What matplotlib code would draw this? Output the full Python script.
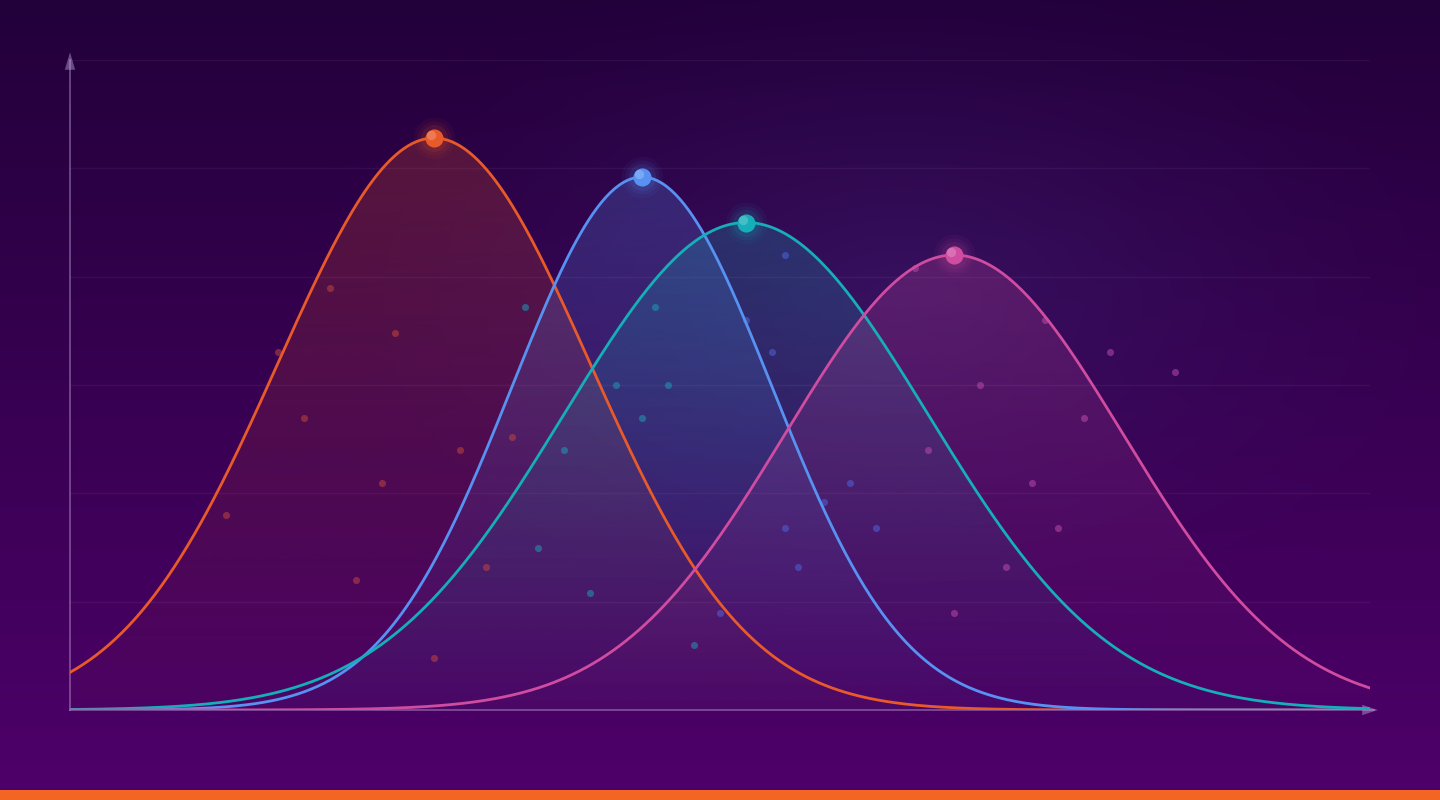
import numpy as np
import matplotlib
matplotlib.use("Agg")
import matplotlib.pyplot as plt
from matplotlib.colors import to_rgb
from matplotlib.patches import Polygon, Rectangle

# ---------------- data ----------------
series_names = ["Orange", "Blue", "Teal", "Pink"]
series_colors = ["#e85a2a", "#5792f2", "#16aeb8", "#d04ca0"]
means = [28, 44, 52, 68]
sigmas = [12, 10, 14, 13]
peaks = [0.88, 0.82, 0.75, 0.70]

red_x = [12, 16, 18, 20, 22, 24, 25, 28, 30, 32, 34]
red_y = [0.30, 0.55, 0.45, 0.65, 0.20, 0.35, 0.58, 0.08, 0.40, 0.22, 0.42]
teal_x = [35, 36, 38, 40, 42, 44, 45, 46, 48]
teal_y = [0.62, 0.25, 0.40, 0.18, 0.50, 0.45, 0.62, 0.50, 0.10]
blue_x = [50, 52, 54, 55, 55, 56, 58, 60, 62]
blue_y = [0.15, 0.60, 0.55, 0.70, 0.28, 0.22, 0.32, 0.35, 0.28]
pink_x = [65, 66, 68, 70, 72, 74, 75, 76, 78, 80, 85]
pink_y = [0.68, 0.40, 0.15, 0.50, 0.22, 0.35, 0.60, 0.28, 0.45, 0.55, 0.52]

dot_groups = [(red_x, red_y, "#c0443e"), (teal_x, teal_y, "#1e9ab4"),
              (blue_x, blue_y, "#4f63d8"), (pink_x, pink_y, "#b84aa8")]

x_min, x_max = 0, 100
y_min, y_max = 0, 1.0
grid_levels = [1/6, 2/6, 3/6, 4/6, 5/6, 1.0]

# ---------------- figure ----------------
W, H = 1440, 800
fig = plt.figure(figsize=(W / 100, H / 100), dpi=100)

# background gradient
bg = fig.add_axes([0, 0, 1, 1])
bg.set_axis_off()
yy, xx = np.mgrid[0:H, 0:W]
t = yy / (H - 1)
top = np.array(to_rgb("#22003a"))
bot = np.array(to_rgb("#4e006a"))
img = top[None, None, :] * (1 - t[..., None]) + bot[None, None, :] * t[..., None]
glow_c = np.array(to_rgb("#3a2070"))
d = np.sqrt(((xx - 900) / 620.0) ** 2 + ((yy - 300) / 380.0) ** 2)
w = np.clip(1 - d, 0, 1) ** 1.6 * 0.55
img = img * (1 - w[..., None]) + glow_c[None, None, :] * w[..., None]
bg.imshow(img, extent=[0, W, H, 0], aspect="auto", interpolation="bilinear")
bg.set_xlim(0, W)
bg.set_ylim(H, 0)
bg.add_patch(Rectangle((0, 790), W, 10, color="#f26522", lw=0))

# main axes: x 0..100 -> px 70..1370, y 0..1 -> px 710..60
ax_left, ax_right, ax_bottom, ax_top = 70, 1370, 710, 60
ax = fig.add_axes([ax_left / W, (H - ax_bottom) / H, (ax_right - ax_left) / W,
                   (ax_bottom - ax_top) / H])
ax.set_xlim(x_min, x_max)
ax.set_ylim(y_min, y_max)
ax.patch.set_alpha(0)
for s in ax.spines.values():
    s.set_visible(False)
ax.set_xticks([])
ax.set_yticks([])

# grid
for g in grid_levels:
    ax.axhline(g, color="white", alpha=0.05, lw=1, zorder=1)

# axes with arrows
axis_col = (0.75, 0.65, 0.85, 0.45)
ax.plot([0, 0], [0, 1.0], color=axis_col, lw=1.3, zorder=2, clip_on=False)
ax.plot([0, 100.3], [0, 0], color=axis_col, lw=1.3, zorder=2, clip_on=False)
ax.add_patch(Polygon([[-0.4, 0.985], [0.4, 0.985], [0, 1.012]], closed=True,
                     color=axis_col, lw=0, clip_on=False, zorder=2))
ax.add_patch(Polygon([[99.4, -0.008], [99.4, 0.008], [100.6, 0]], closed=True,
                     color=axis_col, lw=0, clip_on=False, zorder=2))

xs = np.linspace(x_min, x_max, 600)
grad = np.linspace(0.02, 0.24, 256)[:, None]  # bottom -> top alpha

for name, col, mu, sg, pk in zip(series_names, series_colors, means, sigmas, peaks):
    ys = pk * np.exp(-0.5 * ((xs - mu) / sg) ** 2)
    rgb = np.array(to_rgb(col))
    # gradient fill under the curve
    poly = ax.fill_between(xs, 0, ys, color="none", lw=0)
    rgba = np.zeros((256, 1, 4))
    rgba[..., :3] = rgb
    rgba[..., 3] = grad
    im = ax.imshow(rgba, extent=[x_min, x_max, 0, pk], origin="lower",
                   aspect="auto", zorder=3, interpolation="bilinear")
    im.set_clip_path(poly.get_paths()[0], transform=ax.transData)
    # line
    ax.plot(xs, ys, color=col, lw=2.0, zorder=6, solid_capstyle="round")

# scatter dots
for dx, dy, dc in dot_groups:
    ax.scatter(dx, dy, s=26, color=dc, alpha=0.55, lw=0, zorder=5)

# peak markers with glow
for col, mu, pk in zip(series_colors, means, peaks):
    for s, a in [(900, 0.05), (600, 0.07), (380, 0.10)]:
        ax.scatter([mu], [pk], s=s, color=col, alpha=a, lw=0, zorder=7)
    ax.scatter([mu], [pk], s=170, color=col, lw=0, zorder=8)
    light = 0.55 * np.array(to_rgb(col)) + 0.45
    ax.scatter([mu - 0.25], [pk + 0.004], s=45, color=light, alpha=0.45, lw=0, zorder=9)

ax.set_xlim(x_min, x_max)
ax.set_ylim(y_min, y_max)

fig.savefig("out.png", dpi=100)
